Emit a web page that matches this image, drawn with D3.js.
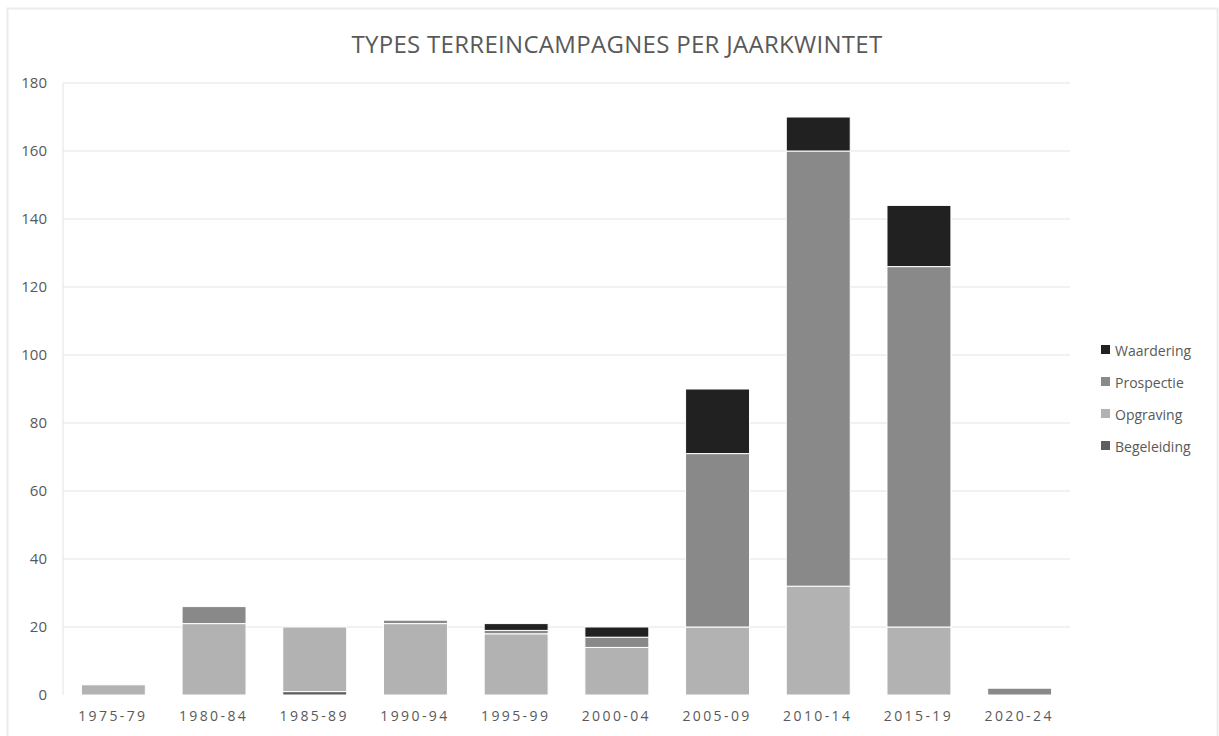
<!DOCTYPE html>
<html><head><meta charset="utf-8">
<script src="https://cdn.jsdelivr.net/npm/d3@7"></script>
<style>
html,body{margin:0;padding:0;background:#fff;}
svg{display:block;font-family:"Open Sans",sans-serif;}
</style></head>
<body><svg id="c" width="1219" height="736"></svg>
<script>
const categories = ["1975-79","1980-84","1985-89","1990-94","1995-99","2000-04","2005-09","2010-14","2015-19","2020-24"];
const begeleiding = [0,0,1,0,0,0,0,0,0,0];
const opgraving   = [3,21,19,21,18,14,20,32,20,0];
const prospectie  = [0,5,0,1,1,3,51,128,106,2];
const waardering  = [0,0,0,0,2,3,19,10,18,0];
const seriesNames = ["Begeleiding","Opgraving","Prospectie","Waardering"];
const seriesColors = ["#5e5e5e","#b2b2b2","#898989","#212121"];
const yTicks = [0,20,40,60,80,100,120,140,160,180];
const title = "TYPES TERREINCAMPAGNES PER JAARKWINTET";

const FONT = '"Open Sans",sans-serif';
const svg = d3.select("#c");
svg.append("rect").attr("x",7.5).attr("y",8.5).attr("width",1210).attr("height",740)
  .attr("fill","none").attr("stroke","#ececec").attr("stroke-width",2);

const pL=63, pR=1070, pT=83, pB=695;
const x = d3.scaleBand().domain(categories).range([pL,pR]).paddingInner(0.365).paddingOuter(0.1825);
const y = d3.scaleLinear().domain([0,180]).range([pB,pT]);

svg.append("g").selectAll("line").data(yTicks.filter(t=>t>0)).join("line")
  .attr("x1",pL).attr("x2",pR).attr("y1",d=>y(d)).attr("y2",d=>y(d))
  .attr("stroke","#e3e3e3").attr("stroke-width",1);
svg.append("line").attr("x1",pL).attr("x2",pL).attr("y1",pT).attr("y2",pB)
  .attr("stroke","#e3e3e3");

const ya = svg.append("g").attr("transform",`translate(${pL-12},0)`)
  .call(d3.axisLeft(y).tickValues(yTicks).tickSize(0).tickPadding(4));
ya.select(".domain").remove();
ya.selectAll("text").attr("fill","#595959").attr("font-size","15px").attr("font-family",FONT);

const xa = svg.append("g").attr("transform",`translate(0,${pB+10})`)
  .call(d3.axisBottom(x).tickSize(0).tickPadding(6));
xa.select(".domain").remove();
xa.selectAll("text").attr("fill","#595959").attr("font-size","14px")
  .attr("letter-spacing","2.4px").attr("font-family",FONT)
  .attr("dx","-0.5px");

const table = categories.map((c,i)=>({cat:c, Begeleiding:begeleiding[i], Opgraving:opgraving[i], Prospectie:prospectie[i], Waardering:waardering[i]}));
const stack = d3.stack().keys(seriesNames)(table);
const color = d3.scaleOrdinal().domain(seriesNames).range(seriesColors);

svg.append("g").selectAll("g").data(stack).join("g")
  .attr("fill",d=>color(d.key))
  .selectAll("rect").data(d=>d.filter(s=>s[1]-s[0]>0)).join("rect")
  .attr("x",d=>x(d.data.cat)).attr("width",x.bandwidth())
  .attr("y",d=>y(d[1])).attr("height",d=>y(d[0])-y(d[1]))
  .attr("stroke","#ffffff").attr("stroke-width",1);

svg.append("text").attr("x",617).attr("y",53).attr("text-anchor","middle")
  .attr("fill","#595959").attr("font-size","24px").attr("letter-spacing","0.3px")
  .attr("font-family",FONT).text(title);

const legOrder = seriesNames.slice().reverse();
const lg = svg.append("g").attr("transform","translate(1101,351)");
legOrder.forEach((n,i)=>{
  const g = lg.append("g").attr("transform",`translate(0,${i*32})`);
  g.append("rect").attr("x",0).attr("y",-6).attr("width",9).attr("height",9).attr("fill",color(n));
  g.append("text").attr("x",14).attr("y",5).attr("fill","#595959").attr("font-size","14px").attr("font-family",FONT).text(n);
});
</script></body></html>
